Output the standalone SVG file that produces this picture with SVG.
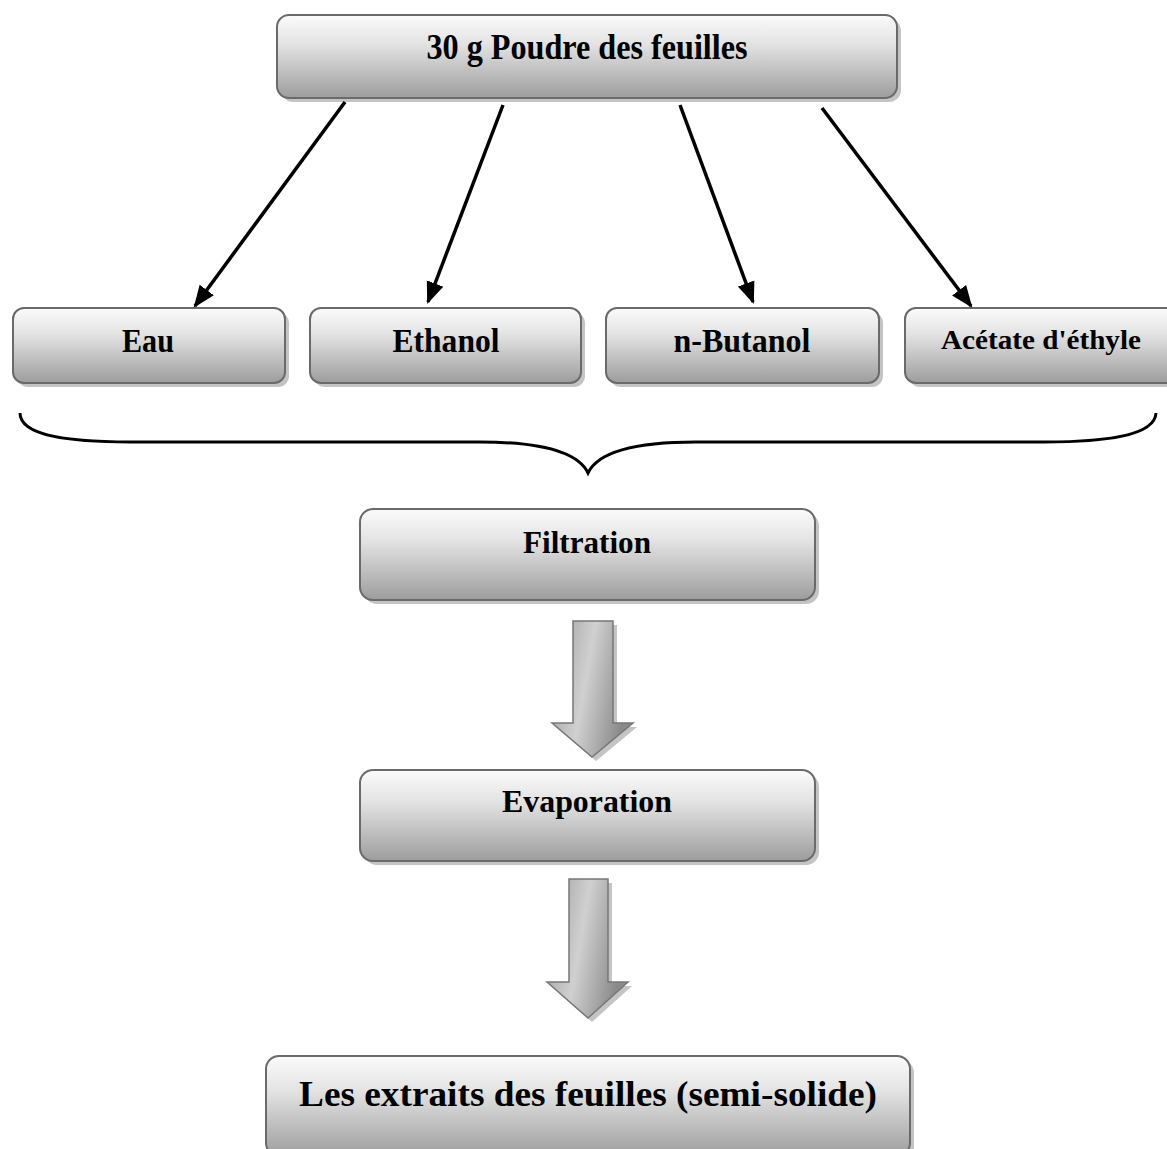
<svg xmlns="http://www.w3.org/2000/svg" width="1167" height="1149" viewBox="0 0 1167 1149">
<style>
.box{fill:url(#g);stroke:#6a6a6a;stroke-width:2}
.sh{fill:#c4c4c4}
.t{font-family:"Liberation Serif","Times New Roman",serif;font-weight:bold;fill:#000;text-anchor:middle}
.c{stroke:#000;stroke-width:3.5;fill:none}
.blk{fill:url(#ag);stroke:#777;stroke-width:1.5}
</style>
<defs>
<linearGradient id="g" x1="0" y1="0" x2="0" y2="1">
<stop offset="0" stop-color="#fbfbfb"/>
<stop offset="0.35" stop-color="#e3e3e3"/>
<stop offset="1" stop-color="#9d9d9d"/>
</linearGradient>
<linearGradient id="ag" x1="0" y1="0" x2="1" y2="0.3">
<stop offset="0" stop-color="#9a9a9a"/>
<stop offset="0.5" stop-color="#d0d0d0"/>
<stop offset="1" stop-color="#8a8a8a"/>
</linearGradient>
<marker id="a" viewBox="0 0 10 10" refX="9" refY="5" markerWidth="22" markerHeight="22" markerUnits="userSpaceOnUse" orient="auto">
<path d="M0,1 L10,5 L0,9 z" fill="#000"/>
</marker>
</defs>

<g id="n-top">
<rect class="sh" x="281" y="19" width="620" height="83" rx="12"/>
<rect class="box" x="277" y="15" width="620" height="83" rx="12"/>
<text class="t" x="587" y="59" font-size="36" textLength="321" lengthAdjust="spacingAndGlyphs">30 g Poudre des feuilles</text>
</g>

<g id="n-eau">
<rect class="sh" x="17" y="312" width="272" height="75" rx="11"/>
<rect class="box" x="13" y="308" width="272" height="75" rx="11"/>
<text class="t" x="148" y="352" font-size="33" textLength="52" lengthAdjust="spacingAndGlyphs">Eau</text>
</g>
<g id="n-ethanol">
<rect class="sh" x="314" y="312" width="271" height="75" rx="11"/>
<rect class="box" x="310" y="308" width="271" height="75" rx="11"/>
<text class="t" x="446" y="352" font-size="33" textLength="107" lengthAdjust="spacingAndGlyphs">Ethanol</text>
</g>
<g id="n-butanol">
<rect class="sh" x="610" y="312" width="273" height="75" rx="11"/>
<rect class="box" x="606" y="308" width="273" height="75" rx="11"/>
<text class="t" x="742" y="352" font-size="33" textLength="137" lengthAdjust="spacingAndGlyphs">n-Butanol</text>
</g>
<g id="n-acetate">
<rect class="sh" x="909" y="312" width="272" height="75" rx="11"/>
<rect class="box" x="905" y="308" width="272" height="75" rx="11"/>
<text class="t" x="1041" y="349" font-size="28" textLength="200" lengthAdjust="spacingAndGlyphs">Acétate d'éthyle</text>
</g>

<g id="n-filtration">
<rect class="sh" x="364" y="513" width="455" height="91" rx="13"/>
<rect class="box" x="360" y="509" width="455" height="91" rx="13"/>
<text class="t" x="587" y="553" font-size="32" textLength="128" lengthAdjust="spacingAndGlyphs">Filtration</text>
</g>

<g id="n-evaporation">
<rect class="sh" x="364" y="774" width="455" height="91" rx="13"/>
<rect class="box" x="360" y="770" width="455" height="91" rx="13"/>
<text class="t" x="587" y="812" font-size="32" textLength="170" lengthAdjust="spacingAndGlyphs">Evaporation</text>
</g>

<g id="n-extraits">
<rect class="sh" x="270" y="1060" width="644" height="100" rx="13"/>
<rect class="box" x="266" y="1056" width="644" height="100" rx="13"/>
<text class="t" x="588" y="1106" font-size="36" textLength="578" lengthAdjust="spacingAndGlyphs">Les extraits des feuilles (semi-solide)</text>
</g>

<g id="connectors">
<line class="c" x1="345" y1="102" x2="195" y2="306" marker-end="url(#a)"/>
<line class="c" x1="503" y1="105" x2="428" y2="302" marker-end="url(#a)"/>
<line class="c" x1="680" y1="105" x2="753" y2="302" marker-end="url(#a)"/>
<line class="c" x1="822" y1="108" x2="971" y2="306" marker-end="url(#a)"/>
<path d="M20,413 C20,436 70,442 130,442 L480,442 C540,442 578,452 588,473 C598,452 636,442 696,442 L1044,442 C1104,442 1155,436 1156,413" fill="none" stroke="#000" stroke-width="3"/>
<path d="M577,625 L617,625 L617,727 L637,727 L596,761 L556,727 L577,727 Z" fill="#c4c4c4"/>
<path class="blk" d="M573,621 L613,621 L613,723 L633,723 L592,757 L552,723 L573,723 Z"/>
<path d="M573,883 L612,883 L612,986 L632,986 L592,1022 L551,986 L573,986 Z" fill="#c4c4c4"/>
<path class="blk" d="M569,879 L608,879 L608,982 L628,982 L588,1018 L547,982 L569,982 Z"/>
</g>
</svg>
